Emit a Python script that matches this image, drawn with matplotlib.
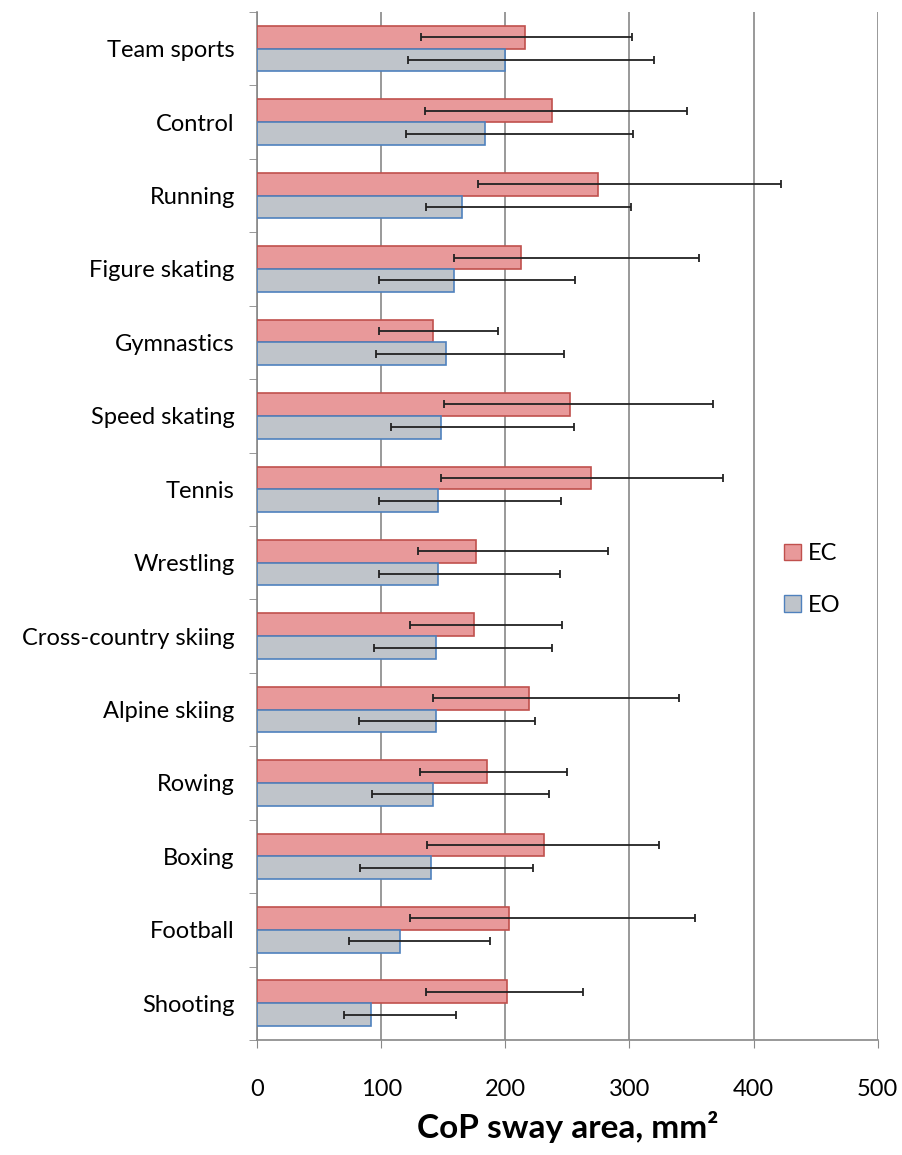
import matplotlib.pyplot as plt
import numpy as np
from matplotlib.patches import Patch

plt.rcParams['font.family'] = ['Lato', 'DejaVu Sans']

sports = ['Team sports', 'Control', 'Running', 'Figure skating', 'Gymnastics',
          'Speed skating', 'Tennis', 'Wrestling', 'Cross-country skiing',
          'Alpine skiing', 'Rowing', 'Boxing', 'Football', 'Shooting']

# eyes closed
ec = [216, 238, 275, 213, 142, 252, 269, 176, 175, 219, 185, 231, 203, 201]
ec_lo = [132, 135, 178, 159, 98, 151, 148, 130, 123, 142, 131, 137, 123, 136]
ec_hi = [302, 346, 422, 356, 194, 367, 375, 283, 246, 340, 250, 324, 353, 263]
# eyes open
eo = [200, 184, 165, 159, 152, 148, 146, 146, 144, 144, 142, 140, 115, 92]
eo_lo = [122, 120, 136, 98, 96, 108, 98, 98, 94, 82, 93, 83, 74, 70]
eo_hi = [320, 303, 301, 256, 247, 255, 245, 244, 238, 224, 235, 222, 188, 160]

ec = np.array(ec); eo = np.array(eo)
ec_err = [ec - np.array(ec_lo), np.array(ec_hi) - ec]
eo_err = [eo - np.array(eo_lo), np.array(eo_hi) - eo]

fig = plt.figure(figsize=(9.02, 11.55), dpi=100)
ax = fig.add_axes([0.285, 0.0996, 0.688, 0.89])

y = np.arange(len(sports))
h = 0.31
ax.barh(y - h / 2, ec, height=h, color='#e8999a', edgecolor='#c0504d', linewidth=1.2,
        xerr=ec_err, error_kw=dict(ecolor='#222222', elinewidth=1.3, capsize=3, capthick=1.3),
        zorder=3)
ax.barh(y + h / 2, eo, height=h, color='#bfc4ca', edgecolor='#4f81bd', linewidth=1.2,
        xerr=eo_err, error_kw=dict(ecolor='#222222', elinewidth=1.3, capsize=3, capthick=1.3),
        zorder=3)

ax.set_ylim(len(sports) - 0.5, -0.5)
ax.set_xlim(0, 500)
ax.set_yticks(y)
ax.set_yticklabels(sports, fontsize=17)
ax.set_yticks(np.arange(len(sports) + 1) - 0.5, minor=True)
ax.tick_params(axis='y', which='major', length=0, pad=16)
ax.tick_params(axis='y', which='minor', length=6, color='#888888', direction='out')
ax.set_xticks([0, 100, 200, 300, 400, 500])
ax.tick_params(axis='x', length=6, color='#888888', labelsize=17, pad=22)

ax.grid(axis='x', color='#888888', linewidth=1.2, zorder=0)
for s in ['top', 'right']:
    ax.spines[s].set_visible(False)
for s in ['left', 'bottom']:
    ax.spines[s].set_color('#888888')
    ax.spines[s].set_linewidth(1.2)

ax.set_xlabel('CoP sway area, mm²', fontsize=24, fontweight='bold', labelpad=8)

handles = [Patch(facecolor='#e8999a', edgecolor='#c0504d', label='EC'),
           Patch(facecolor='#bfc4ca', edgecolor='#4f81bd', label='EO')]
ax.legend(handles=handles, loc='center left', bbox_to_anchor=(0.815, 0.448), frameon=False,
          fontsize=17, handlelength=0.7, handleheight=0.7, handletextpad=0.3,
          labelspacing=1.3)

fig.savefig('out.png', dpi=100)
